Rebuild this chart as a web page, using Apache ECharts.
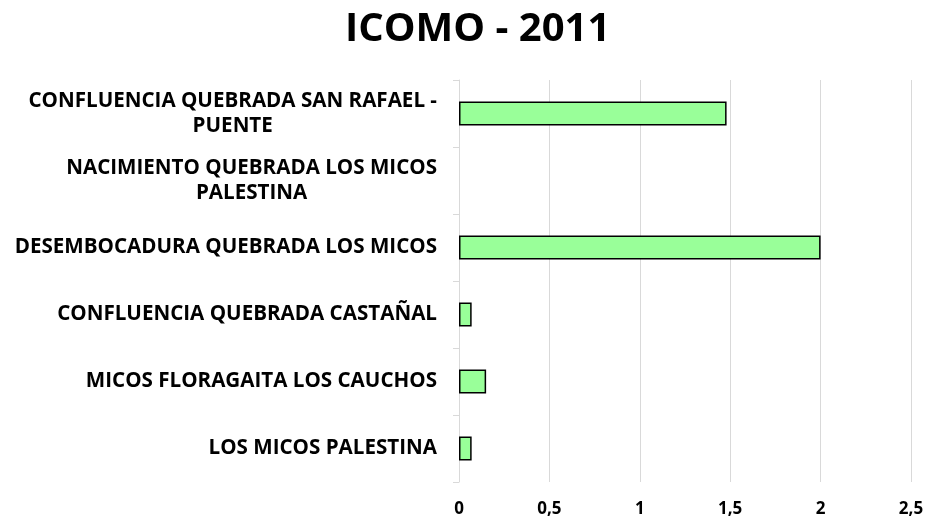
<!DOCTYPE html>
<html>
<head>
<meta charset="utf-8">
<title>ICOMO - 2011</title>
<script src="https://cdn.jsdelivr.net/npm/echarts@6/dist/echarts.min.js"></script>
<style>
  html, body { margin: 0; padding: 0; background: #fff; }
  #chart { width: 929px; height: 525px; }
</style>
</head>
<body>
<div id="chart"></div>
<script>
'use strict';
// estaciones (de arriba hacia abajo)
var estaciones = [
  'CONFLUENCIA QUEBRADA SAN RAFAEL -\nPUENTE',
  'NACIMIENTO QUEBRADA LOS MICOS\nPALESTINA',
  'DESEMBOCADURA QUEBRADA LOS MICOS',
  'CONFLUENCIA QUEBRADA CASTAÑAL',
  'MICOS FLORAGAITA LOS CAUCHOS',
  'LOS MICOS PALESTINA'
];
// valores ICOMO 2011
var icomo = [1.48, null, 2.0, 0.07, 0.15, 0.07];
var ejeX = { min: 0, max: 2.5, interval: 0.5 };

var chart = echarts.init(document.getElementById('chart'));
var fuente = '"Open Sans", "DejaVu Sans", sans-serif';

chart.setOption({
  animation: false,
  title: {
    text: 'ICOMO - 2011',
    left: 340,
    top: 5,
    textStyle: { fontFamily: fuente, fontWeight: 'bold', fontSize: 40, color: '#000' }
  },
  grid: { left: 459, right: 18, top: 80, bottom: 43, containLabel: false },
  xAxis: {
    type: 'value',
    min: ejeX.min,
    max: ejeX.max,
    interval: ejeX.interval,
    axisLine: { show: false },
    axisTick: { show: false },
    splitLine: { lineStyle: { color: '#d9d9d9', width: 1 } },
    axisLabel: {
      margin: 19,
      fontFamily: fuente,
      fontWeight: 'bold',
      fontSize: 17,
      color: '#000',
      formatter: function (v) {
        return String(v).replace('.', ',');
      }
    }
  },
  yAxis: {
    type: 'category',
    inverse: true,
    data: estaciones,
    axisLine: { show: true, lineStyle: { color: '#d9d9d9', width: 1 } },
    axisTick: { show: true, length: 6, lineStyle: { color: '#d9d9d9' } },
    axisLabel: {
      margin: 22,
      fontFamily: fuente,
      fontWeight: 'bold',
      fontSize: 20.6,
      color: '#000',
      lineHeight: 25,
      formatter: function (v) {
        return v.split('\n').map(function (l) { return '{c|' + l + '}'; }).join('\n');
      },
      rich: {
        c: { align: 'center', fontFamily: fuente, fontWeight: 'bold', fontSize: 20.6, color: '#000', lineHeight: 25 }
      }
    }
  },
  series: [{
    type: 'bar',
    data: icomo,
    barWidth: 24,
    itemStyle: { color: '#99ff99', borderColor: '#000', borderWidth: 1.5 }
  }]
});
</script>
</body>
</html>
